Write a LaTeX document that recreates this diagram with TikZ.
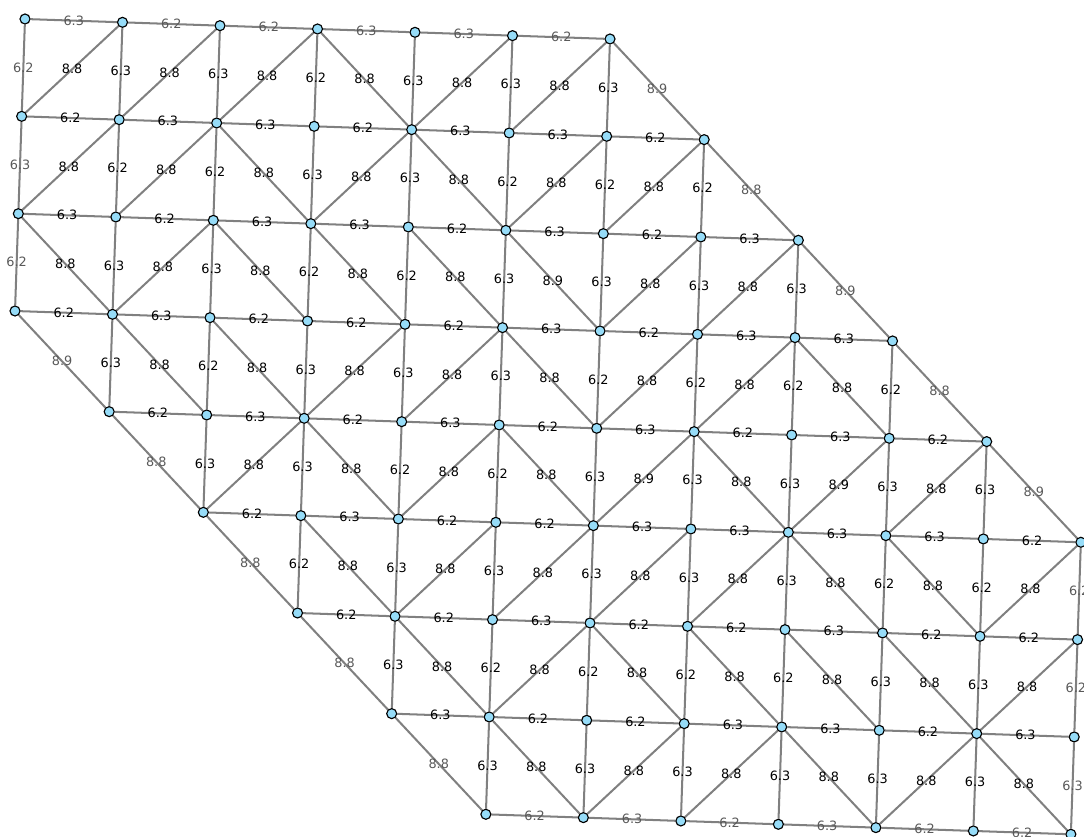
\documentclass[tikz,border=0pt]{standalone}
\usepackage{fontspec}
\setmainfont{DejaVu Sans}
\usepackage{tikz}
\usetikzlibrary{backgrounds}
\definecolor{vtxblue}{RGB}{150,220,248}
\definecolor{linkgray}{RGB}{128,128,128}
\tikzset{
  vtx/.style  = {circle, draw=black, fill=vtxblue, inner sep=0pt, minimum size=0.2cm, line width=0.65pt},
  link/.style = {draw=linkgray, line width=1.15pt},
  lbl/.style  = {font=\fontsize{7.3}{8}\selectfont, inner sep=0pt, text=black},
  lblb/.style = {lbl, text=black!65},
}

\begin{document}
\begin{tikzpicture}[x=0.02cm,y=-0.02cm]
  \useasboundingbox (0,0) rectangle (1084,837);

  % lattice points, row by row
  \foreach \i/\jmin/\jmax in {0/0/6,1/0/7,2/0/8,3/0/9,4/1/10,5/2/11,6/3/11,7/4/11,8/5/11}
    \foreach \j in {\jmin,...,\jmax}
      \node[vtx] (n-\i-\j) at ({25+97.5*\j-3.33*\i},{19+3.33*\j+97.33*\i}) {};

  \begin{scope}[on background layer]
    % rows
    \foreach \i/\jmin/\st/\labs in {
        0/0/lblb/{6.3,6.2,6.2,6.3,6.3,6.2},
        1/0/lbl/{6.2,6.3,6.3,6.2,6.3,6.3,6.2},
        2/0/lbl/{6.3,6.2,6.3,6.3,6.2,6.3,6.2,6.3},
        3/0/lbl/{6.2,6.3,6.2,6.2,6.2,6.3,6.2,6.3,6.3},
        4/1/lbl/{6.2,6.3,6.2,6.3,6.2,6.3,6.2,6.3,6.2},
        5/2/lbl/{6.2,6.3,6.2,6.2,6.3,6.3,6.3,6.3,6.2},
        6/3/lbl/{6.2,6.2,6.3,6.2,6.2,6.3,6.2,6.2},
        7/4/lbl/{6.3,6.2,6.2,6.3,6.3,6.2,6.3},
        8/5/lblb/{6.2,6.3,6.2,6.3,6.2,6.2}}
      \foreach \lab [count=\j from \jmin] in \labs {
        \pgfmathtruncatemacro\jj{\j+1}
        \draw[link] (n-\i-\j) -- node[\st] {\lab} (n-\i-\jj);
      }

    % columns
    \foreach \i/\jmin/\labs in {
        0/0/{6.2,6.3,6.3,6.2,6.3,6.3,6.3},
        1/0/{6.3,6.2,6.2,6.3,6.3,6.2,6.2,6.2},
        2/0/{6.2,6.3,6.3,6.2,6.2,6.3,6.3,6.3,6.3},
        3/1/{6.3,6.2,6.3,6.3,6.3,6.2,6.2,6.2,6.2},
        4/2/{6.3,6.3,6.2,6.2,6.3,6.3,6.3,6.3,6.3},
        5/3/{6.2,6.3,6.3,6.3,6.3,6.3,6.2,6.2,6.2},
        6/4/{6.3,6.2,6.2,6.2,6.2,6.3,6.3,6.2},
        7/5/{6.3,6.3,6.3,6.3,6.3,6.3,6.3}}
      \foreach \lab [count=\j from \jmin] in \labs {
        \pgfmathtruncatemacro\ii{\i+1}
        \def\st{lbl}
        \ifnum\j=0 \def\st{lblb}\fi
        \ifnum\j=11 \def\st{lblb}\fi
        \draw[link] (n-\i-\j) -- node[\st] {\lab} (n-\ii-\j);
      }

    % diagonals: a = up to the right, d = down to the right, b = down to the right on the rim
    \foreach \i/\jmin/\labs in {
        0/0/{a/8.8,a/8.8,a/8.8,d/8.8,a/8.8,a/8.8,b/8.9},
        1/0/{a/8.8,a/8.8,d/8.8,a/8.8,d/8.8,a/8.8,a/8.8,b/8.8},
        2/0/{d/8.8,a/8.8,d/8.8,d/8.8,d/8.8,d/8.9,a/8.8,a/8.8,b/8.9},
        3/0/{b/8.9,d/8.8,d/8.8,a/8.8,a/8.8,d/8.8,a/8.8,a/8.8,d/8.8,b/8.8},
        4/1/{b/8.8,a/8.8,d/8.8,a/8.8,d/8.8,a/8.9,d/8.8,a/8.9,a/8.8,b/8.9},
        5/2/{b/8.8,d/8.8,a/8.8,a/8.8,a/8.8,a/8.8,d/8.8,d/8.8,a/8.8},
        6/3/{b/8.8,d/8.8,a/8.8,d/8.8,d/8.8,d/8.8,d/8.8,a/8.8},
        7/4/{b/8.8,d/8.8,a/8.8,a/8.8,d/8.8,a/8.8,d/8.8}}
      \foreach \dir/\lab [count=\j from \jmin] in \labs {
        \pgfmathtruncatemacro\ii{\i+1}
        \pgfmathtruncatemacro\jj{\j+1}
        \if\dir a
          \draw[link] (n-\ii-\j) -- node[lbl] {\lab} (n-\i-\jj);
        \else\if\dir d
          \draw[link] (n-\i-\j) -- node[lbl] {\lab} (n-\ii-\jj);
        \else
          \draw[link] (n-\i-\j) -- node[lblb] {\lab} (n-\ii-\jj);
        \fi\fi
      }
  \end{scope}
\end{tikzpicture}
\end{document}
